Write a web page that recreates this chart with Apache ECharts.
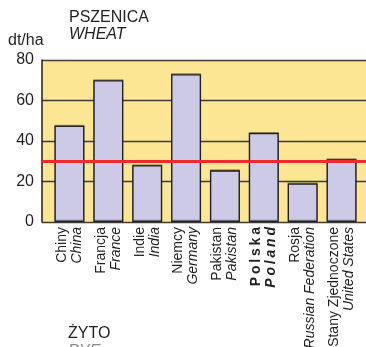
<!DOCTYPE html>
<html>
<head>
<meta charset="utf-8">
<script src="https://cdn.jsdelivr.net/npm/echarts@6/dist/echarts.min.js"></script>
<style>
  html, body { margin: 0; padding: 0; background: #fff; }
  #chart { width: 366px; height: 347px; }
</style>
</head>
<body>
<div id="chart"></div>
<script>
// Wheat yields by country, dt/ha
const countriesPl = ['Chiny', 'Francja', 'Indie', 'Niemcy', 'Pakistan', 'P\u2009o\u2009l\u2009s\u2009k\u2009a', 'Rosja', 'Stany Zjednoczone'];
const countriesEn = ['China', 'France', 'India', 'Germany', 'Pakistan', 'P\u2009o\u2009l\u2009a\u2009n\u2009d', 'Russian Federation', 'United States'];
const wheatYield = [47.5, 70, 28, 73, 25.5, 44, 19, 31];
const worldAverage = 30;
const yTicks = { min: 0, max: 80, step: 20 };
const highlightIndex = 5;

const FONT = '"Liberation Sans", Arial, Helvetica, sans-serif';
const TEXT = '#231f20';

const chart = echarts.init(document.getElementById('chart'), null, { renderer: 'canvas' });

const categoryLabels = countriesPl.map((pl, i) => {
  const b = i === highlightIndex ? 'B' : '';
  return `{pl${b}|${pl}}\n{en${b}|${countriesEn[i]}}`;
});

const labelStyle = (extra) => Object.assign(
  { fontSize: 14, lineHeight: 15, fontFamily: FONT, color: TEXT }, extra);

chart.setOption({
  animation: false,
  textStyle: { fontFamily: FONT },
  title: [
    { text: 'PSZENICA', left: 69, top: 10, padding: 0,
      textStyle: { fontSize: 16, fontWeight: 'normal', color: TEXT, fontFamily: FONT } },
    { text: 'WHEAT', left: 69, top: 27, padding: 0,
      textStyle: { fontSize: 16, fontWeight: 'normal', fontStyle: 'italic', color: TEXT, fontFamily: FONT } },
    { text: 'dt/ha', left: 8, top: 33, padding: 0,
      textStyle: { fontSize: 16, fontWeight: 'normal', color: TEXT, fontFamily: FONT } },
    { text: 'ŻYTO', left: 68, top: 326, padding: 0,
      textStyle: { fontSize: 16, fontWeight: 'normal', color: TEXT, fontFamily: FONT } },
    { text: 'RYE', left: 68, top: 344, padding: 0,
      textStyle: { fontSize: 16, fontWeight: 'normal', fontStyle: 'italic', color: '#888', fontFamily: FONT } }
  ],
  grid: [
    // background panel with value gridlines
    { left: 42, right: -2, top: 60, bottom: 125, show: true, outerBoundsMode: 'none',
      backgroundColor: '#fde693', borderWidth: 0 },
    // bars
    { left: 50, right: 5, top: 60, bottom: 125, outerBoundsMode: 'none' }
  ],
  xAxis: [
    { type: 'value', gridIndex: 0, min: 0, max: 1, show: false },
    { type: 'category', gridIndex: 1, data: categoryLabels,
      axisLine: { show: false }, axisTick: { show: false },
      axisLabel: {
        interval: 0, rotate: 90, margin: 5, color: TEXT, fontFamily: FONT,
        rich: {
          pl: labelStyle({}),
          en: labelStyle({ fontStyle: 'italic' }),
          plB: labelStyle({ fontWeight: 'bold' }),
          enB: labelStyle({ fontWeight: 'bold', fontStyle: 'italic' })
        }
      } }
  ],
  yAxis: [
    { type: 'value', gridIndex: 0, min: yTicks.min, max: yTicks.max, interval: yTicks.step,
      axisLine: { show: true, lineStyle: { color: '#231f20', width: 1.5 } },
      axisTick: { show: false },
      axisLabel: { fontSize: 16, color: TEXT, margin: 8, fontFamily: FONT },
      splitLine: { show: true, lineStyle: { color: '#3d3b38', width: 1.3 } } },
    { type: 'value', gridIndex: 1, min: yTicks.min, max: yTicks.max, show: false,
      splitLine: { show: false } }
  ],
  series: [
    {
      type: 'bar', xAxisIndex: 1, yAxisIndex: 1, data: wheatYield, barWidth: 30, z: 3,
      itemStyle: { color: '#cccae6', borderColor: '#231f20', borderWidth: 1.3,
        shadowColor: 'rgba(0,0,0,0.35)', shadowOffsetY: -1, shadowBlur: 0 }
    },
    {
      type: 'line', xAxisIndex: 0, yAxisIndex: 0, data: [], z: 5,
      markLine: {
        silent: true, symbol: 'none', label: { show: false },
        lineStyle: { color: '#ee2a2e', width: 3, type: 'solid' },
        data: [{ yAxis: worldAverage }]
      }
    }
  ]
});
</script>
</body>
</html>
